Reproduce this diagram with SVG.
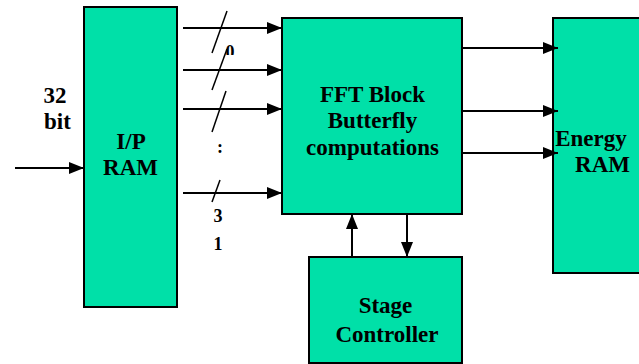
<svg xmlns="http://www.w3.org/2000/svg" width="639" height="364" viewBox="0 0 639 364">
<style>
.box{fill:#00E0A8;stroke:#000;stroke-width:2}
.t{font-family:"Liberation Serif","Times New Roman",serif;font-weight:bold;font-size:23px;fill:#000}
.n{font-family:"Liberation Serif","Times New Roman",serif;font-weight:bold;font-size:18px;fill:#000}
.c{stroke:#000;stroke-width:2;fill:none}
.s{stroke:#000;stroke-width:1.5;fill:none}
</style>
<defs>
<marker id="ah" viewBox="0 0 15 12" refX="15" refY="6" markerWidth="15" markerHeight="12" markerUnits="userSpaceOnUse" orient="auto">
<path d="M0,0 L15,6 L0,12 Z" fill="#000"/>
</marker>
<clipPath id="zc"><rect x="220" y="40" width="25" height="15"/></clipPath>
</defs>
<rect width="639" height="364" fill="#fff"/>
<g id="ip-ram">
<rect class="box" x="84" y="7" width="93" height="300"/>
<text class="t" x="131" y="149" text-anchor="middle">I/P</text>
<text class="t" x="130.5" y="175" text-anchor="middle">RAM</text>
</g>
<g id="fft-block">
<rect class="box" x="282" y="18" width="180" height="196"/>
<text class="t" x="372.5" y="102" text-anchor="middle">FFT Block</text>
<text class="t" x="372.5" y="128" text-anchor="middle">Butterfly</text>
<text class="t" x="372.5" y="155" text-anchor="middle">computations</text>
</g>
<g id="energy-ram">
<rect class="box" x="553" y="18" width="100" height="255"/>
<text class="t" x="591" y="146" text-anchor="middle">Energy</text>
<text class="t" x="602.5" y="172" text-anchor="middle">RAM</text>
</g>
<g id="stage-controller">
<rect class="box" x="309" y="257" width="153" height="106"/>
<text class="t" x="385.5" y="313" text-anchor="middle">Stage</text>
<text class="t" x="387" y="342" text-anchor="middle">Controller</text>
</g>
<g id="connectors">
<line class="c" x1="15" y1="168" x2="84" y2="168" marker-end="url(#ah)"/>
<line class="c" x1="183" y1="28" x2="282" y2="28" marker-end="url(#ah)"/>
<line class="c" x1="183" y1="70" x2="282" y2="70" marker-end="url(#ah)"/>
<line class="c" x1="183" y1="109" x2="282" y2="109" marker-end="url(#ah)"/>
<line class="c" x1="183" y1="193" x2="282" y2="193" marker-end="url(#ah)"/>
<line class="s" x1="212" y1="53" x2="227" y2="11"/>
<line class="s" x1="212" y1="90" x2="227" y2="49"/>
<line class="s" x1="212" y1="132" x2="226" y2="91"/>
<line class="s" x1="212" y1="202" x2="220" y2="180"/>
<line class="c" x1="462" y1="48" x2="558" y2="48" marker-end="url(#ah)"/>
<line class="c" x1="462" y1="111" x2="558" y2="111" marker-end="url(#ah)"/>
<line class="c" x1="462" y1="153" x2="558" y2="153" marker-end="url(#ah)"/>
<line class="c" x1="352" y1="257" x2="352" y2="214" marker-end="url(#ah)"/>
<line class="c" x1="407" y1="214" x2="407" y2="257" marker-end="url(#ah)"/>
</g>
<g id="labels">
<text class="t" x="55" y="103" text-anchor="middle">32</text>
<text class="t" x="57.5" y="129" text-anchor="middle">bit</text>
<text class="n" x="230" y="58" text-anchor="middle" clip-path="url(#zc)">0</text>
<text class="n" x="220" y="153" text-anchor="middle">:</text>
<text class="n" x="218" y="222" text-anchor="middle">3</text>
<text class="n" x="218" y="250" text-anchor="middle">1</text>
</g>
</svg>
